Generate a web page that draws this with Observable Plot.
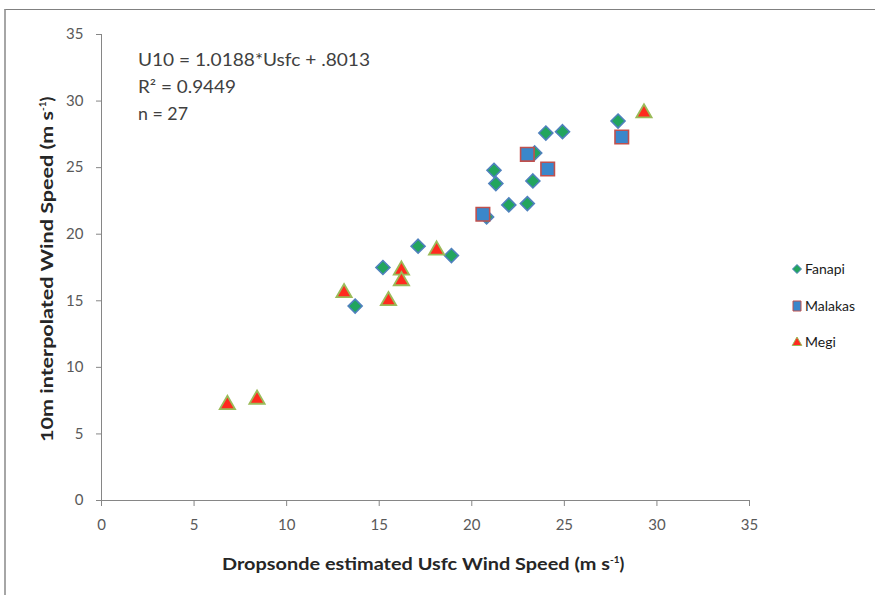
<!DOCTYPE html>
<html>
<head>
<meta charset="utf-8">
<script src="https://cdn.jsdelivr.net/npm/d3@7"></script>
<script src="https://cdn.jsdelivr.net/npm/@observablehq/plot@0.6"></script>
<style>
  html, body { margin: 0; padding: 0; background: #fff; }
  #wrap { position: relative; width: 875px; height: 595px; overflow: hidden; }
  #frame { position: absolute; left: 4px; top: 9px; width: 900px; height: 700px;
           border-top: 1px solid #808080; border-left: 2px solid #a6a6a6; }
  #chart { position: absolute; left: 0; top: 0; }
</style>
</head>
<body>
<div id="wrap"><div id="frame"></div><div id="chart"></div></div>
<script>
// ---- data ----
const seriesNames = ["Fanapi", "Malakas", "Megi"];
const fanapiX = [13.7, 15.2, 17.1, 18.9, 20.8, 21.2, 21.3, 22.0, 23.0, 23.3, 23.4, 24.0, 24.9, 27.9];
const fanapiY = [14.6, 17.5, 19.1, 18.4, 21.3, 24.8, 23.8, 22.2, 22.3, 24.0, 26.1, 27.6, 27.7, 28.5];
const malakasX = [20.6, 23.0, 24.1, 28.1];
const malakasY = [21.5, 26.0, 24.9, 27.3];
const megiX = [6.8, 8.4, 13.1, 15.5, 16.2, 16.2, 18.1, 29.3];
const megiY = [7.2, 7.6, 15.6, 15.0, 17.3, 16.5, 18.8, 29.1];
const ticks = [0, 5, 10, 15, 20, 25, 30, 35];
const annotationLines = ["U10 = 1.0188*Usfc + .8013", "R\u00b2 = 0.9449", "n = 27"];
const xTitle = "Dropsonde estimated Usfc Wind Speed (m s";
const yTitle = "10m interpolated Wind Speed (m s";

const toRows = (xs, ys, s) => xs.map((x, i) => ({x, y: ys[i], series: s}));
const fanapi = toRows(fanapiX, fanapiY, "Fanapi");
const malakas = toRows(malakasX, malakasY, "Malakas");
const megi = toRows(megiX, megiY, "Megi");

const font = "Lato, 'Liberation Sans', sans-serif";
const axisGray = "#868686";

const chart = Plot.plot({
  width: 875,
  height: 595,
  marginLeft: 101,
  marginRight: 126,
  marginTop: 34,
  marginBottom: 95,
  style: {fontFamily: font, fontSize: "15px", background: "transparent", overflow: "visible"},
  x: {domain: [0, 35]},
  y: {domain: [0, 35]},
  marks: [
    Plot.ruleX([0], {y1: 0, y2: 35, stroke: axisGray, strokeWidth: 1}),
    Plot.ruleY([0], {x1: 0, x2: 35, stroke: axisGray, strokeWidth: 1}),
    Plot.axisX({ticks, tickSize: 6, tickPadding: 13, stroke: axisGray, fill: "#595959", label: null, fontSize: 15}),
    Plot.axisY({ticks, tickSize: 5, tickPadding: 13, stroke: axisGray, fill: "#595959", label: null, fontSize: 15}),
    Plot.dot(fanapi, {x: "x", y: "y", symbol: "diamond2", r: 6.3, fill: "#22A55E", stroke: "#4F81BD", strokeWidth: 1.6}),
    Plot.dot(malakas, {x: "x", y: "y", symbol: "square2", r: 8.6, fill: "#3A87CB", stroke: "#C0504D", strokeWidth: 1.6}),
    Plot.dot(megi, {x: "x", y: "y", symbol: "triangle2", r: 7.3, fill: "#FF2A1F", stroke: "#9BBB59", strokeWidth: 1.8})
  ]
});
document.getElementById("chart").appendChild(chart);

const svg = d3.select(chart);

// regression annotation
const annBase = [66, 93, 120];
const annLen = [232, 98, 50];
annotationLines.forEach((t, i) => {
  svg.append("text")
    .attr("x", 138).attr("y", annBase[i])
    .attr("text-anchor", "start")
    .attr("textLength", annLen[i]).attr("lengthAdjust", "spacingAndGlyphs")
    .attr("font-family", font).attr("font-size", 16.5).attr("fill", "#404040")
    .text(t);
});

// axis titles
const xt = svg.append("text")
  .attr("x", 222).attr("y", 570)
  .attr("text-anchor", "start")
  .attr("font-family", font).attr("font-size", 17.5).attr("font-weight", "bold").attr("fill", "#262626");
xt.append("tspan").attr("textLength", 388).attr("lengthAdjust", "spacingAndGlyphs").text(xTitle);
xt.append("tspan").attr("font-size", 10).attr("dy", -7).text("-1");
xt.append("tspan").attr("dy", 7).text(")");

const yt = svg.append("text")
  .attr("transform", "translate(53,442) rotate(-90)")
  .attr("text-anchor", "start")
  .attr("font-family", font).attr("font-size", 17.5).attr("font-weight", "bold").attr("fill", "#262626");
yt.append("tspan").attr("textLength", 331).attr("lengthAdjust", "spacingAndGlyphs").text(yTitle);
yt.append("tspan").attr("font-size", 10).attr("dy", -7).text("-1");
yt.append("tspan").attr("dy", 7).text(")");

// legend
const legendY = [269, 306, 342];
const legendShapes = [
  {path: "M0,-4.5L4.5,0L0,4.5L-4.5,0Z", fill: "#22A55E", stroke: "#4F81BD"},
  {path: "M-4,-5H4V5H-4Z", fill: "#3A87CB", stroke: "#C0504D"},
  {path: "M0,-5L4.8,3.5L-4.8,3.5Z", fill: "#FF2A1F", stroke: "#9BBB59"}
];
seriesNames.forEach((name, i) => {
  const g = svg.append("g").attr("transform", `translate(797,${legendY[i]})`);
  g.append("path").attr("d", legendShapes[i].path)
    .attr("fill", legendShapes[i].fill).attr("stroke", legendShapes[i].stroke).attr("stroke-width", 1);
  g.append("text").attr("x", 8).attr("dy", "0.35em")
    .attr("text-anchor", "start")
    .attr("font-family", font).attr("font-size", 14).attr("fill", "#1a1a1a").text(name);
});
</script>
</body>
</html>
